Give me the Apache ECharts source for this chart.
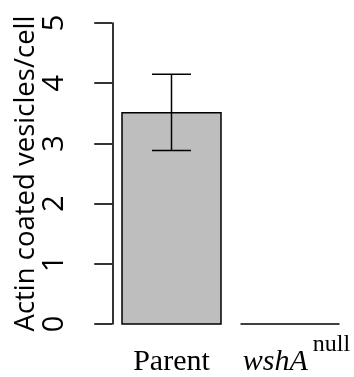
<!DOCTYPE html>
<html><head><meta charset="utf-8">
<script src="https://cdn.jsdelivr.net/npm/echarts@6/dist/echarts.min.js"></script>
<style>html,body{margin:0;padding:0;background:#fff}#c{width:354px;height:377px}</style>
</head><body><div id="c"></div>
<script>
const categories = ['Parent', 'wshA'];
const superscripts = ['', 'null'];
const means = [3.51, 0];
const errLow = [2.88, null];
const errHigh = [4.15, null];
const yTicks = [0, 1, 2, 3, 4, 5];

const chart = echarts.init(document.getElementById('c'), null, {renderer: 'canvas'});
const barData = means.map((v, i) => [i, v]);
const errData = means.map((v, i) => [i, errLow[i], errHigh[i]]).filter(d => d[1] !== null);

chart.setOption({
  animation: false,
  backgroundColor: '#fff',
  grid: {left: 112.25, right: 4.75, top: 23, bottom: 53, containLabel: false, outerBoundsMode: 'none'},
  xAxis: {
    type: 'category', data: categories,
    axisLine: {show: false}, axisTick: {show: false},
    axisLabel: {
      margin: 23, interval: 0,
      formatter: (v, i) => superscripts[i] ? '{i|' + v + '}{s|' + superscripts[i] + '}' : '{p|' + v + '}',
      rich: {
        p: {fontFamily: 'Liberation Serif', fontSize: 30, color: '#000', lineHeight: 30, verticalAlign: 'bottom', padding: [14, 0, 0, 0]},
        i: {fontFamily: 'Liberation Serif', fontStyle: 'italic', fontSize: 30, color: '#000', lineHeight: 30, verticalAlign: 'bottom', padding: [0, 0, 0, 13]},
        s: {fontFamily: 'Liberation Serif', fontSize: 24, color: '#000', lineHeight: 24, verticalAlign: 'bottom', padding: [0, 0, 20, 5]}
      }
    }
  },
  yAxis: {
    type: 'value', min: 0, max: 5, interval: 1,
    name: 'Actin coated vesicles/cell', nameLocation: 'middle', nameRotate: 90, nameGap: 72,
    nameMoveOverlap: false,
    nameTextStyle: {fontFamily: 'Open Sans', fontSize: 27.5, color: '#000'},
    splitLine: {show: false},
    axisLine: {show: true, lineStyle: {color: '#000', width: 1.6}},
    axisTick: {show: true, length: 18, lineStyle: {color: '#000', width: 1.6}},
    axisLabel: {rotate: 90, margin: 43, fontFamily: 'Open Sans', fontSize: 29, color: '#000',
      formatter: v => yTicks.includes(v) ? String(v) : ''}
  },
  series: [
    {
      type: 'custom', data: barData, encode: {x: 0, y: 1},
      renderItem: (params, api) => {
        const idx = api.value(0), v = api.value(1);
        const top = api.coord([idx, v]);
        const base = api.coord([idx, 0]);
        const bw = 99;
        const x = top[0] - bw / 2;
        if (v > 0) {
          return {type: 'rect', shape: {x: x, y: top[1], width: bw, height: base[1] - top[1]},
            style: {fill: '#bebebe', stroke: '#000', lineWidth: 1.5}};
        }
        return {type: 'line', shape: {x1: x, y1: base[1], x2: x + bw, y2: base[1]},
          style: {stroke: '#000', lineWidth: 1.5}};
      }
    },
    {
      type: 'custom', data: errData, encode: {x: 0, y: [1, 2]}, z: 5,
      renderItem: (params, api) => {
        const idx = api.value(0);
        const lo = api.coord([idx, api.value(1)]);
        const hi = api.coord([idx, api.value(2)]);
        const hw = 19.5;
        const st = {stroke: '#000', lineWidth: 1.5};
        return {type: 'group', children: [
          {type: 'line', shape: {x1: lo[0], y1: lo[1], x2: hi[0], y2: hi[1]}, style: st},
          {type: 'line', shape: {x1: lo[0] - hw, y1: lo[1], x2: lo[0] + hw, y2: lo[1]}, style: st},
          {type: 'line', shape: {x1: hi[0] - hw, y1: hi[1], x2: hi[0] + hw, y2: hi[1]}, style: st}
        ]};
      }
    }
  ]
});
</script></body></html>
